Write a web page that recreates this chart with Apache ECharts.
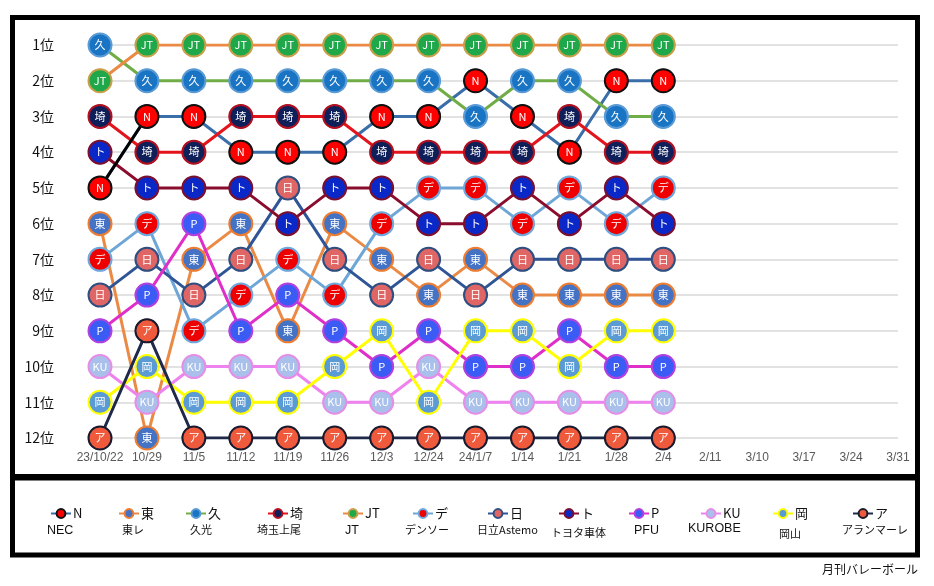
<!DOCTYPE html>
<html>
<head>
<meta charset="utf-8">
<script src="https://cdn.jsdelivr.net/npm/echarts@6/dist/echarts.min.js"></script>
<style>html,body{margin:0;padding:0;background:#fff}#c{width:934px;height:586px}</style>
</head>
<body>
<div id="c"></div>
<script>
// ---- data ----
const dates = ['23/10/22','10/29','11/5','11/12','11/19','11/26','12/3','12/24','24/1/7','1/14','1/21','1/28','2/4','2/11','3/10','3/17','3/24','3/31'];
const rankLabels = ['1位','2位','3位','4位','5位','6位','7位','8位','9位','10位','11位','12位'];
const teamNames = ['NEC','東レ','久光','埼玉上尾','JT','デンソー','日立Astemo','トヨタ車体','PFU','KUROBE','岡山','アランマーレ'];
const teamShort = ['N','東','久','埼','JT','デ','日','ト','P','KU','岡','ア'];
const rankNEC  = [5,3,3,4,4,4,3,3,2,3,4,2,2];
const rankToray= [6,12,7,6,9,6,7,8,7,8,8,8,8];
const rankHisamitsu=[1,2,2,2,2,2,2,2,3,2,2,3,3];
const rankSaitama=[3,4,4,3,3,3,4,4,4,4,3,4,4];
const rankJT   = [2,1,1,1,1,1,1,1,1,1,1,1,1];
const rankDenso= [7,6,9,8,7,8,6,5,5,6,5,6,5];
const rankHitachi=[8,7,8,7,5,7,8,7,8,7,7,7,7];
const rankToyota=[4,5,5,5,6,5,5,6,6,5,6,5,6];
const rankPFU  = [9,8,6,9,8,9,10,9,10,10,9,10,10];
const rankKurobe=[10,11,10,10,10,11,11,10,11,11,11,11,11];
const rankOkayama=[11,10,11,11,11,10,9,11,9,9,10,9,9];
const rankArrows=[12,9,12,12,12,12,12,12,12,12,12,12,12];
const ranks = [rankNEC,rankToray,rankHisamitsu,rankSaitama,rankJT,rankDenso,rankHitachi,rankToyota,rankPFU,rankKurobe,rankOkayama,rankArrows];

// ---- styles ----
const lineColors = ['#3a6ea8','#ea8a45','#70ad47','#e3141b','#ea8a45','#6ea6d7','#2f5597','#8b0d2e','#e02fc8','#ee82ee','#ffff00','#1f2a4a'];
const fillColors = ['#ff0000','#4472c4','#1a74c4','#0e1f5a','#1fa84a','#ee0000','#e06666','#0a28c8','#3b5bf5','#a9c0ea','#5b9bd5','#f05a3c'];
const borderColors=['#111111','#ed7d31','#5b9bd5','#b01020','#c8a04a','#6fa8dc','#2f4f80','#7a1030','#b040e0','#e58ee8','#ffff00','#1a1a2e'];
const legendPos = [[50,47],[118,122],[185,190],[267,257],[342,345],[412,405],[487,477],[558,551],[628,634],[700,688],[772,779],[852,842]];
const fullNameY = [532,532,532,532,532,532,532,535,532,530,536,532];

const series = [];
ranks.forEach((r,i)=>{
  series.push({
    name: teamNames[i], type:'line', data:r, z:2,
    symbol:'circle', symbolSize:22, showSymbol:true,
    lineStyle:{color:lineColors[i], width:3},
    itemStyle:{color:fillColors[i], borderColor:borderColors[i], borderWidth:2},
    emphasis:{disabled:true}, animation:false
  });
});
// first NEC segment drawn in black
series.push({
  name:'NEC_first', type:'line', z:3, symbol:'none',
  data: rankNEC.map((v,j)=> j<2 ? v : null),
  lineStyle:{color:'#000', width:3}, animation:false, emphasis:{disabled:true}
});
ranks.forEach((r,i)=>{
  series.push({
    name: teamNames[i]+'_m', type:'scatter', z:5,
    data: r.map((v,j)=>[j,v]),
    symbol:'circle', symbolSize:23,
    itemStyle:{color:fillColors[i], borderColor:borderColors[i], borderWidth:2, opacity:1},
    label:{show:true, position:'inside', formatter:teamShort[i], color:'#fff', fontSize:11,
      fontFamily:'Noto Sans CJK JP'},
    emphasis:{disabled:true}, animation:false
  });
});

const legends = teamNames.map((n,i)=>({
  data:[n], left:legendPos[i][0], top:507, selectedMode:false,
  itemWidth:20, itemHeight:11, padding:0, itemGap:0,
  formatter:()=>teamShort[i],
  textStyle:{fontSize:13, color:'#111', fontFamily:'Noto Sans CJK JP', padding:[0,0,0,-3]}
}));

const graphics = [
  {type:'rect', shape:{x:12.5,y:17.5,width:905,height:459}, style:{fill:'none',stroke:'#000',lineWidth:5}, silent:true},
  {type:'rect', shape:{x:12.5,y:478,width:905,height:77}, style:{fill:'none',stroke:'#000',lineWidth:5}, silent:true},
  {type:'text', left:822, top:563, style:{text:'月刊バレーボール', font:'12px "Noto Sans CJK JP"', fill:'#111'}}
];
teamNames.forEach((n,i)=>{
  const latin = /^[A-Za-z]+$/.test(n);
  graphics.push({type:'text', left:legendPos[i][1], top:fullNameY[i]-8,
    style:{text:n, font: latin ? '12.5px "Liberation Sans"' : '11px "Noto Sans CJK JP"', fill:'#111'}});
});

const chart = echarts.init(document.getElementById('c'), null, {renderer:'canvas'});
chart.setOption({
  backgroundColor:'#fff',
  animation:false,
  grid:{left:100, right:36, top:45, bottom:148},
  xAxis:{type:'category', data:dates, boundaryGap:false,
    axisLine:{show:false}, axisTick:{show:false}, splitLine:{show:false},
    axisLabel:{color:'#595959', fontSize:12, margin:14, interval:0, fontFamily:'Liberation Sans'}},
  yAxis:{type:'value', inverse:true, min:1, max:12, interval:1,
    axisLine:{show:false}, axisTick:{show:false},
    splitLine:{lineStyle:{color:'#d9d9d9', width:1.5}},
    axisLabel:{formatter:v=>rankLabels[v-1], color:'#111', fontSize:14, margin:46,
      fontFamily:'Noto Sans CJK JP'}},
  legend:legends,
  graphic:graphics,
  series:series
});
</script>
</body>
</html>
